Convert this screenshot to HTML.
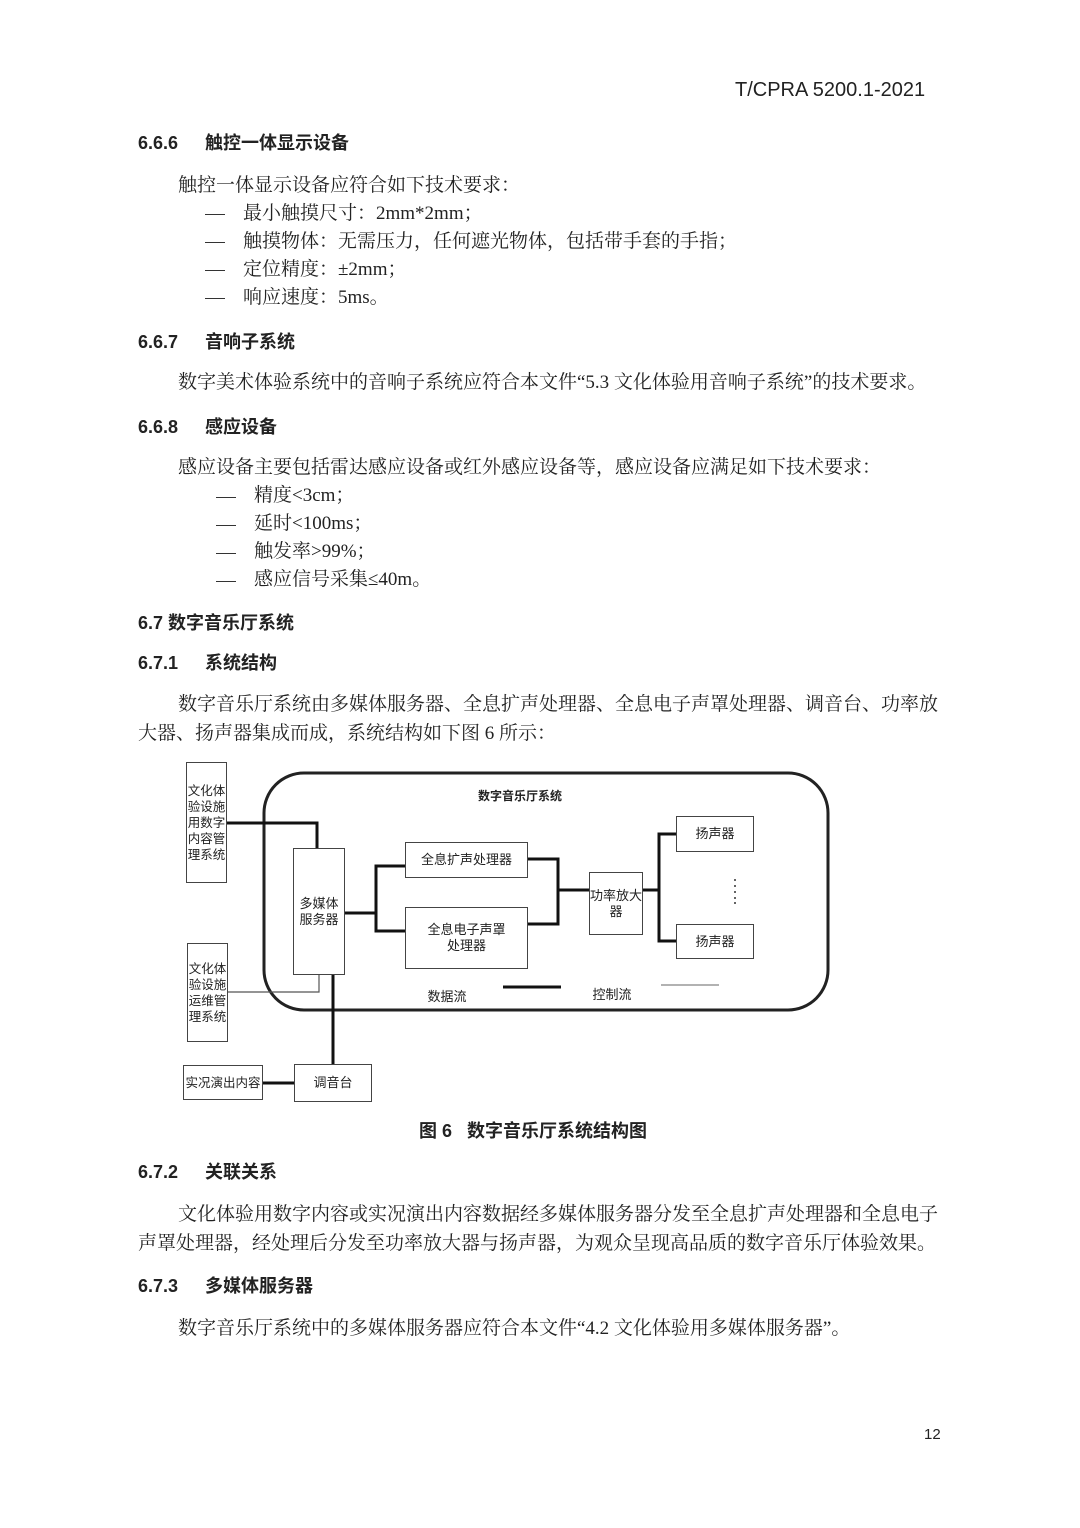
<!DOCTYPE html>
<html><head><meta charset="utf-8"><style>
body{margin:0;width:1080px;height:1528px;background:#fff;position:relative;overflow:hidden;font-family:"Liberation Serif","Noto Serif CJK SC",serif;color:#222}
.t{position:absolute;white-space:nowrap;font-size:19px;line-height:22px}
.h{position:absolute;white-space:nowrap;font-family:"Liberation Sans","Noto Sans CJK SC",sans-serif;font-weight:bold;font-size:18px;line-height:22px}
.h span{display:inline-block;width:67px}
.d{position:absolute;left:205px;width:20px;border-top:1.5px solid #333}
.b{position:absolute;border:1.5px solid #444;background:#fff;font-family:"Liberation Sans","Noto Sans CJK SC",sans-serif;font-size:13px;line-height:16px;display:flex;align-items:center;justify-content:center;text-align:center;color:#222;box-sizing:border-box}
svg text{font-family:"Liberation Sans","Noto Sans CJK SC",sans-serif}
</style></head><body>
<div class="t" style="left:735px;top:79px;font-family:'Liberation Sans',sans-serif;font-size:20px">T/CPRA 5200.1-2021</div>

<div class="h" style="left:138px;top:132px"><span>6.6.6</span>触控一体显示设备</div>
<div class="t" style="left:178px;top:175px">触控一体显示设备应符合如下技术要求：</div>
<div class="t" style="left:243px;top:203px">最小触摸尺寸：2mm*2mm；</div>
<div class="t" style="left:243px;top:231px">触摸物体：无需压力，任何遮光物体，包括带手套的手指；</div>
<div class="t" style="left:243px;top:259px">定位精度：±2mm；</div>
<div class="t" style="left:243px;top:287px">响应速度：5ms。</div>
<div class="d" style="top:214px"></div><div class="d" style="top:242px"></div><div class="d" style="top:270px"></div><div class="d" style="top:298px"></div>

<div class="h" style="left:138px;top:331px"><span>6.6.7</span>音响子系统</div>
<div class="t" style="left:178px;top:372px">数字美术体验系统中的音响子系统应符合本文件“5.3 文化体验用音响子系统”的技术要求。</div>
<div class="h" style="left:138px;top:416px"><span>6.6.8</span>感应设备</div>
<div class="t" style="left:178px;top:457px">感应设备主要包括雷达感应设备或红外感应设备等，感应设备应满足如下技术要求：</div>
<div class="t" style="left:254px;top:485px">精度&lt;3cm；</div>
<div class="t" style="left:254px;top:513px">延时&lt;100ms；</div>
<div class="t" style="left:254px;top:541px">触发率&gt;99%；</div>
<div class="t" style="left:254px;top:569px">感应信号采集≤40m。</div>
<div class="d" style="left:216px;top:497px"></div><div class="d" style="left:216px;top:525px"></div><div class="d" style="left:216px;top:553px"></div><div class="d" style="left:216px;top:581px"></div>

<div class="h" style="left:138px;top:612px">6.7 数字音乐厅系统</div>
<div class="h" style="left:138px;top:652px"><span>6.7.1</span>系统结构</div>
<div class="t" style="left:178px;top:694px">数字音乐厅系统由多媒体服务器、全息扩声处理器、全息电子声罩处理器、调音台、功率放</div>
<div class="t" style="left:138px;top:723px">大器、扬声器集成而成，系统结构如下图 6 所示：</div>

<svg style="position:absolute;left:0;top:0" width="1080" height="1528">
<rect x="264" y="773" width="564" height="237" rx="40" fill="none" stroke="#222" stroke-width="3"/>
<text x="520" y="800" font-size="12" font-weight="bold" text-anchor="middle" fill="#222">数字音乐厅系统</text>
<g stroke="#111" stroke-width="3" fill="none">
<polyline points="226,823 317,823 317,848"/>
<line x1="333" y1="975" x2="333" y2="1064"/>
<line x1="263" y1="1083" x2="294" y2="1083"/>
<line x1="345" y1="913" x2="376" y2="913"/>
<polyline points="405,866 376,866 376,931 405,931"/>
<polyline points="528,859 558,859 558,924 528,924"/>
<line x1="558" y1="890" x2="589" y2="890"/>
<line x1="643" y1="890" x2="659" y2="890"/>
<polyline points="676,834 659,834 659,941 676,941"/>
<line x1="503" y1="987" x2="561" y2="987"/>
</g>
<polyline points="227,992 319,992 319,975" fill="none" stroke="#555" stroke-width="1.2"/>
<line x1="661" y1="985" x2="719" y2="985" stroke="#999" stroke-width="1.5"/>
<text x="447" y="1001" font-size="13" text-anchor="middle" fill="#222">数据流</text>
<text x="612" y="999" font-size="13" text-anchor="middle" fill="#222">控制流</text>
<g fill="#333"><circle cx="735" cy="880" r="1"/><circle cx="735" cy="886" r="1"/><circle cx="735" cy="892" r="1"/><circle cx="735" cy="898" r="1"/><circle cx="735" cy="903" r="1"/></g>
</svg>

<div class="b" style="left:186px;top:762px;width:41px;height:121px;font-size:12.5px;line-height:16px">文化体<br>验设施<br>用数字<br>内容管<br>理系统</div>
<div class="b" style="left:187px;top:943px;width:41px;height:99px;font-size:12.5px;line-height:16px">文化体<br>验设施<br>运维管<br>理系统</div>
<div class="b" style="left:293px;top:848px;width:52px;height:127px">多媒体<br>服务器</div>
<div class="b" style="left:405px;top:842px;width:123px;height:36px">全息扩声处理器</div>
<div class="b" style="left:405px;top:907px;width:123px;height:62px">全息电子声罩<br>处理器</div>
<div class="b" style="left:589px;top:872px;width:54px;height:63px">功率放大<br>器</div>
<div class="b" style="left:676px;top:816px;width:78px;height:36px">扬声器</div>
<div class="b" style="left:676px;top:924px;width:78px;height:35px">扬声器</div>
<div class="b" style="left:183px;top:1065px;width:80px;height:35px;font-size:12.5px">实况演出内容</div>
<div class="b" style="left:294px;top:1064px;width:78px;height:38px">调音台</div>

<div class="h" style="left:419px;top:1120px">图 6&nbsp;&nbsp;&nbsp;数字音乐厅系统结构图</div>
<div class="h" style="left:138px;top:1161px"><span>6.7.2</span>关联关系</div>
<div class="t" style="left:178px;top:1204px">文化体验用数字内容或实况演出内容数据经多媒体服务器分发至全息扩声处理器和全息电子</div>
<div class="t" style="left:138px;top:1233px">声罩处理器，经处理后分发至功率放大器与扬声器，为观众呈现高品质的数字音乐厅体验效果。</div>
<div class="h" style="left:138px;top:1275px"><span>6.7.3</span>多媒体服务器</div>
<div class="t" style="left:178px;top:1318px">数字音乐厅系统中的多媒体服务器应符合本文件“4.2 文化体验用多媒体服务器”。</div>
<div class="t" style="left:924px;top:1424px;font-family:'Liberation Sans',sans-serif;font-size:15px">12</div>
</body></html>
